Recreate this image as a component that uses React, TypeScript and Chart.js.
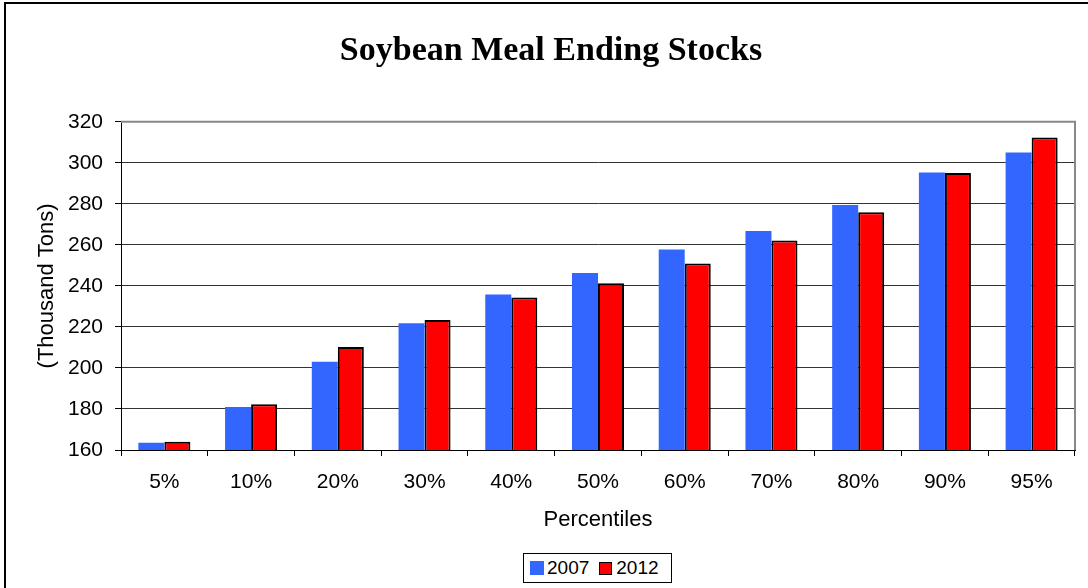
import React, { useEffect, useRef } from "react";
import { Chart, registerables } from "chart.js";

Chart.register(...registerables);

const categories = ["5%", "10%", "20%", "30%", "40%", "50%", "60%", "70%", "80%", "90%", "95%"];
const series2007 = [163.5, 181, 203, 221.8, 235.8, 246.3, 257.7, 266.8, 279.5, 295.3, 305];
const series2012 = [164, 182.3, 210.2, 223.4, 234.3, 241.3, 250.9, 262.1, 275.9, 295, 312.3];
const seriesNames = ["2007", "2012"];
const yMin = 160;
const yMax = 320;
const yStep = 20;

const titleText = "Soybean Meal Ending Stocks";
const xTitle = "Percentiles";
const yTitle = "(Thousand Tons)";

const BLUE = "#3366FF";
const RED = "#FF0000";
const SANS = "'Liberation Sans', Arial, sans-serif";

const framePlugin = {
  id: "frame",
  beforeDraw(chart: any) {
    const { ctx, width, height } = chart;
    ctx.save();
    ctx.fillStyle = "#ffffff";
    ctx.fillRect(0, 0, width, height);
    ctx.restore();
  },
  beforeDatasetsDraw(chart: any) {
    const { ctx, chartArea } = chart;
    const { left, top, right, bottom } = chartArea;
    ctx.save();
    ctx.strokeStyle = "#888888";
    ctx.lineWidth = 2;
    ctx.beginPath();
    ctx.moveTo(left, top);
    ctx.lineTo(right, top);
    ctx.lineTo(right, bottom);
    ctx.stroke();
    ctx.restore();
  },
  afterDraw(chart: any) {
    const { ctx } = chart;
    ctx.save();
    ctx.strokeStyle = "#000000";
    ctx.lineWidth = 2;
    ctx.strokeRect(5, 3, 1300, 900);
    ctx.restore();
  },
};

export default function App() {
  const canvasRef = useRef<HTMLCanvasElement | null>(null);

  useEffect(() => {
    if (!canvasRef.current) return;
    const chart = new Chart(canvasRef.current, {
      type: "bar",
      data: {
        labels: categories,
        datasets: [
          {
            label: seriesNames[0],
            data: series2007,
            backgroundColor: BLUE,
            borderWidth: 0,
            categoryPercentage: 0.6,
            barPercentage: 1.0,
          },
          {
            label: seriesNames[1],
            data: series2012,
            backgroundColor: RED,
            borderColor: "#000000",
            borderWidth: 2,
            categoryPercentage: 0.6,
            barPercentage: 1.0,
          },
        ],
      },
      options: {
        responsive: false,
        animation: false,
        layout: { padding: { left: 27, right: 13, top: 0, bottom: 0 } },
        plugins: {
          legend: { display: false },
          tooltip: { enabled: false },
          title: {
            display: true,
            text: titleText,
            color: "#000",
            font: { family: "'Liberation Serif', 'Times New Roman', serif", size: 34, weight: "bold" },
            padding: { top: 31, bottom: 50 },
          },
        },
        scales: {
          x: {
            afterFit(scale: any) {
              scale.height = 138;
            },
            grid: {
              display: true,
              drawOnChartArea: false,
              drawTicks: true,
              tickLength: 6,
              tickColor: "#000",
              offset: true,
            },
            border: { color: "#000", width: 1 },
            ticks: {
              color: "#000",
              font: { family: SANS, size: 21 },
              padding: 14,
              maxRotation: 0,
            },
            title: {
              display: true,
              text: xTitle,
              color: "#000",
              font: { family: SANS, size: 22 },
              padding: { top: 0, bottom: 55 },
            },
          },
          y: {
            min: yMin,
            max: yMax,
            afterFit(scale: any) {
              scale.width = 94;
            },
            grid: {
              color: "#333",
              lineWidth: 1,
              drawTicks: true,
              tickLength: 6,
              tickColor: "#000",
            },
            border: { color: "#000", width: 1 },
            ticks: {
              stepSize: yStep,
              color: "#000",
              font: { family: SANS, size: 21 },
              padding: 12,
            },
            title: {
              display: true,
              text: yTitle,
              color: "#000",
              font: { family: SANS, size: 22 },
              padding: { top: 7, bottom: 0 },
            },
          },
        },
      },
      plugins: [framePlugin],
    });
    return () => chart.destroy();
  }, []);

  const legendText: React.CSSProperties = {
    fontFamily: SANS,
    fontSize: 19,
    color: "#000",
    lineHeight: "22px",
  };

  return (
    <div style={{ position: "fixed", left: 0, top: 0, width: 1088, height: 588, background: "#fff" }}>
      <canvas ref={canvasRef} width={1088} height={588} style={{ display: "block" }} />
      <div
        style={{
          position: "absolute",
          left: 523,
          top: 553,
          width: 147,
          height: 28,
          border: "1px solid #000",
          background: "#fff",
          display: "flex",
          alignItems: "center",
          boxSizing: "content-box",
        }}
      >
        <span style={{ display: "inline-block", width: 14, height: 14, background: BLUE, marginLeft: 6 }} />
        <span style={{ ...legendText, marginLeft: 3 }}>{seriesNames[0]}</span>
        <span
          style={{
            display: "inline-block",
            width: 11,
            height: 11,
            background: RED,
            border: "1px solid #000",
            marginLeft: 10,
          }}
        />
        <span style={{ ...legendText, marginLeft: 4 }}>{seriesNames[1]}</span>
      </div>
    </div>
  );
}
